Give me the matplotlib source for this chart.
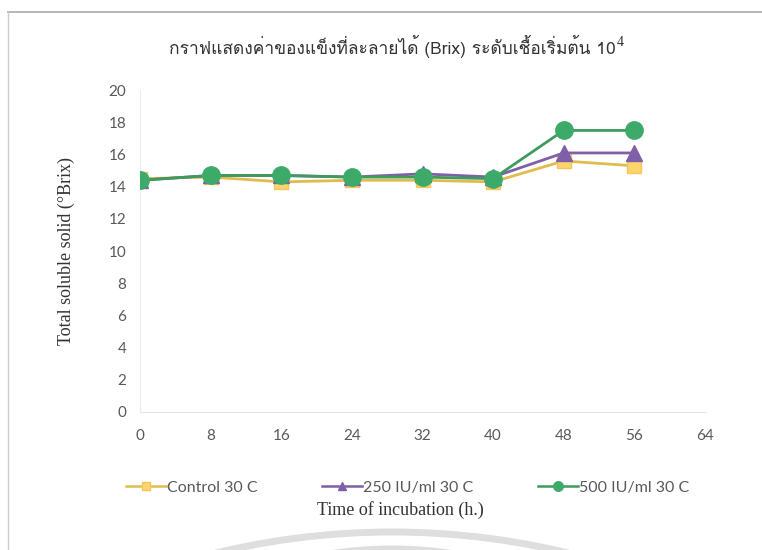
import matplotlib
matplotlib.use("Agg")
import matplotlib.pyplot as plt
from matplotlib import font_manager
from matplotlib.ft2font import FT2Font
from matplotlib.lines import Line2D
from matplotlib.patches import Arc

# data: total soluble solid (°Brix) by incubation time
hours = [0, 8, 16, 24, 32, 40, 48, 56]
control_30c = [14.5, 14.6, 14.3, 14.4, 14.4, 14.3, 15.6, 15.3]
iu250_30c = [14.4, 14.7, 14.7, 14.6, 14.8, 14.6, 16.1, 16.1]
iu500_30c = [14.4, 14.7, 14.7, 14.6, 14.6, 14.5, 17.5, 17.5]
series_names = ["Control 30 C", "250 IU/ml 30 C", "500 IU/ml 30 C"]

title_text = "กราฟแสดงค่าของแข็งที่ละลายได้ (Brix) ระดับเชื้อเริ่มต้น 10"
x_ticks = [0, 8, 16, 24, 32, 40, 48, 56, 64]
y_ticks = [0, 2, 4, 6, 8, 10, 12, 14, 16, 18, 20]


def find_thai_font():
    # first installed font that has Thai glyphs
    for f in font_manager.fontManager.ttflist:
        try:
            if 0x0E01 in FT2Font(f.fname).get_charmap():
                return f.name
        except Exception:
            pass
    return None


thai = find_thai_font()
title_family = [thai, "DejaVu Sans"] if thai else ["DejaVu Sans"]

serif = "Liberation Serif"
tick_font = "Lato"
grey = "#595959"

fig = plt.figure(figsize=(7.62, 5.5), dpi=100)
ax = fig.add_axes([0.184, 0.251, 0.741, 0.585])

ax.plot(hours, control_30c, color="#E0BC4E", lw=2, marker="s", ms=10,
        mfc="#FFD36E", mec="#F2C75C", label=series_names[0], zorder=3)
ax.plot(hours, iu250_30c, color="#7F5FA8", lw=2, marker="^", ms=11,
        mfc="#7F5FA8", mec="#7F5FA8", label=series_names[1], zorder=4)
ax.plot(hours, iu500_30c, color="#3E9B5E", lw=2, marker="o", ms=12.5,
        mfc="#3DAA6A", mec="#3DAA6A", label=series_names[2], zorder=5)

ax.set_xlim(0, 64)
ax.set_ylim(0, 20)
ax.set_xticks(x_ticks)
ax.set_yticks(y_ticks)
for lab in ax.get_xticklabels() + ax.get_yticklabels():
    lab.set_fontfamily(tick_font)
    lab.set_fontsize(11)
    lab.set_color(grey)
ax.tick_params(length=0, pad=12)
ax.tick_params(axis="y", pad=10)

for s in ["top", "right"]:
    ax.spines[s].set_visible(False)
ax.spines["left"].set_color("#EDEDED")
ax.spines["bottom"].set_color("#E3E3E3")

ax.set_ylabel("Total soluble solid (°Brix)", fontfamily=serif, fontsize=13,
              color="#333333", labelpad=24)

leg = fig.legend(loc="center", bbox_to_anchor=(0.535, 0.113), ncol=3,
                 frameon=False, handlelength=2.5, handletextpad=0.1,
                 columnspacing=4.0, markerscale=0.55,
                 prop={"family": tick_font, "size": 11.5})
for t in leg.get_texts():
    t.set_color(grey)
for h in leg.legend_handles:
    h.set_linewidth(1.8)

fig.text(0.525, 0.073, "Time of incubation (h.)", ha="center", va="center",
         fontfamily=serif, fontsize=13, color="#333333")

# title with the exponent placed just after its end
ttl = fig.text(0.515, 0.915, title_text, ha="center", va="center",
               fontfamily=title_family, fontsize=12.5, color="#333333")
fig.add_artist(plt.Annotation("4", xy=(1.0, 0.4), xycoords=ttl,
                              xytext=(1, 0), textcoords="offset points",
                              ha="left", va="bottom", fontfamily=serif,
                              fontsize=10, color="#333333"))

# outer frame lines
fig.add_artist(Line2D([8 / 762, 1], [1 - 12 / 550, 1 - 12 / 550],
                      transform=fig.transFigure, color="#AAAAAA", lw=1.2))
fig.add_artist(Line2D([8 / 762, 8 / 762], [1 - 12 / 550, 0],
                      transform=fig.transFigure, color="#CCCCCC", lw=1))

# faint arcs near the bottom edge
px = fig.dpi_scale_trans
for cy, w, lw in [(532, 1500, 5), (549, 800, 5)]:
    r = w / 2
    arc = Arc((392 / 100, (550 - cy - r) / 100), w / 100, w / 100,
              theta1=60, theta2=120, transform=px, color="#DEDEDE", lw=lw)
    fig.add_artist(arc)

fig.savefig("out.png", dpi=100)
